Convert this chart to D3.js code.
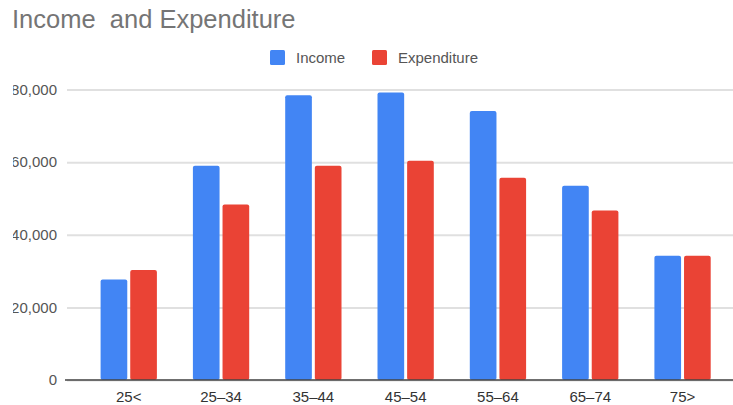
<!DOCTYPE html>
<html>
<head>
<meta charset="utf-8">
<script src="https://cdn.jsdelivr.net/npm/d3@7"></script>
<style>
  body { margin: 0; background: #fff; }
  text { font-family: Arial, "Liberation Sans", sans-serif; }
</style>
</head>
<body>
<svg width="733" height="405"></svg>
<script>
const ageGroups = ['25<', '25–34', '35–44', '45–54', '55–64', '65–74', '75>'];
const income = [27700, 59000, 78400, 79150, 74100, 53500, 34200];
const expenditure = [30300, 48300, 59000, 60400, 55700, 46700, 34200];
const seriesNames = ['Income', 'Expenditure'];
const seriesColors = ['#4285f4', '#ea4335'];
const yTicks = [0, 20000, 40000, 60000, 80000];

const svg = d3.select('svg');
const width = +svg.attr('width');
const height = +svg.attr('height');

const data = ageGroups.map((g, i) => ({ group: g, values: [income[i], expenditure[i]] }));

// title
svg.append('text')
  .attr('x', 12)
  .attr('y', 27.5)
  .attr('font-size', 25.5)
  .attr('fill', '#757575')
  .style('white-space', 'pre')
  .text('Income  and Expenditure');

// legend
const legend = svg.append('g');
const legendX = [270, 372];
seriesNames.forEach((name, i) => {
  legend.append('rect')
    .attr('x', legendX[i])
    .attr('y', 50)
    .attr('width', 15)
    .attr('height', 15)
    .attr('rx', 1.5)
    .attr('fill', seriesColors[i]);
  legend.append('text')
    .attr('x', legendX[i] + 26)
    .attr('y', 62.5)
    .attr('font-size', 15)
    .attr('fill', '#555')
    .text(name);
});

const xScale = d3.scaleBand()
  .domain(ageGroups)
  .range([82.6, 728.7])
  .paddingInner(0.39)
  .paddingOuter(0.195);

const xSub = d3.scaleBand()
  .domain(seriesNames)
  .range([0, xScale.bandwidth()])
  .paddingInner(0.1);

const yScale = d3.scaleLinear()
  .domain([0, 80000])
  .range([380, 89.5]);

// clip the left edge like the cropped original
svg.append('clipPath').attr('id', 'leftcut')
  .append('rect').attr('x', 13).attr('y', 0).attr('width', width).attr('height', height);

// y axis with gridlines
const yAxis = d3.axisLeft(yScale)
  .tickValues(yTicks)
  .tickFormat(d3.format(','))
  .tickSize(-(width - 67));

const yAxisG = svg.append('g')
  .attr('clip-path', 'url(#leftcut)')
  .append('g')
  .attr('transform', 'translate(67,0)')
  .call(yAxis);

yAxisG.select('.domain').remove();
yAxisG.selectAll('.tick line')
  .attr('stroke', '#e0e0e0')
  .attr('stroke-width', 2);
yAxisG.selectAll('.tick text')
  .attr('x', -10)
  .attr('font-size', 15)
  .attr('font-family', 'Arial, "Liberation Sans", sans-serif')
  .attr('fill', '#555');

// bars
const groups = svg.selectAll('.grp').data(data)
  .enter().append('g')
  .attr('class', 'grp')
  .attr('transform', d => `translate(${xScale(d.group)},0)`);

groups.selectAll('rect')
  .data(d => d.values.map((v, i) => ({ key: seriesNames[i], value: v, color: seriesColors[i] })))
  .enter().append('rect')
  .attr('x', d => xSub(d.key))
  .attr('y', d => yScale(d.value))
  .attr('width', xSub.bandwidth())
  .attr('height', d => yScale(0) - yScale(d.value))
  .attr('rx', 2)
  .attr('fill', d => d.color);

// x axis
const xAxisG = svg.append('g')
  .attr('transform', 'translate(0,380)')
  .call(d3.axisBottom(xScale).tickSize(0).tickPadding(11));

xAxisG.select('.domain').remove();
xAxisG.selectAll('.tick text')
  .attr('font-size', 15)
  .attr('font-family', 'Arial, "Liberation Sans", sans-serif')
  .attr('fill', '#333');

svg.append('line')
  .attr('x1', 65)
  .attr('x2', width)
  .attr('y1', yScale(0))
  .attr('y2', yScale(0))
  .attr('stroke', '#444')
  .attr('stroke-width', 1.5);
</script>
</body>
</html>
